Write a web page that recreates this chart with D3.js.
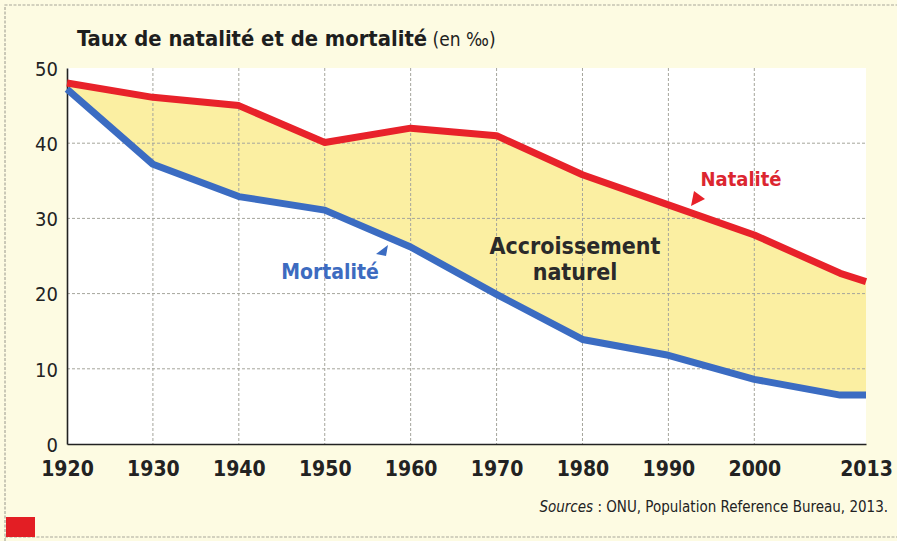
<!DOCTYPE html>
<html>
<head>
<meta charset="utf-8">
<script src="https://cdn.jsdelivr.net/npm/d3@7"></script>
<style>
  html, body { margin: 0; padding: 0; background: #fdfbe2; }
  svg { display: block; }
  text { font-family: "Liberation Sans Narrow", "DejaVu Sans Condensed", "Open Sans", sans-serif; }
</style>
</head>
<body>
<svg id="chart" width="897" height="541"></svg>
<script>
// ---- Data ----
const years     = [1920, 1930, 1940, 1950, 1960, 1970, 1980, 1990, 2000, 2010, 2013];
const natalite  = [48,   46.1, 45,   40.1, 42,   41,   35.8, 31.8, 27.8, 22.7, 21.6];
const mortalite = [47.2, 37.2, 32.9, 31.1, 26.2, 19.9, 13.9, 11.8, 8.6,  6.5,  6.5];
const xTickYears = [1920, 1930, 1940, 1950, 1960, 1970, 1980, 1990, 2000, 2013];
const gridYears  = [1930, 1940, 1950, 1960, 1970, 1980, 1990, 2000];
const yTicks     = [0, 10, 20, 30, 40, 50];
const gridValues = [10, 20, 30, 40];

const svg = d3.select("#chart");
const W = 897, H = 541;

// outer background + dashed frame
svg.append("rect").attr("x", 0).attr("y", 0).attr("width", W).attr("height", H).attr("fill", "#fdfbe2");
svg.append("path")
  .attr("d", `M5,${H} L5,5 L${W},5`)
  .attr("fill", "none").attr("stroke", "#a9a79a").attr("stroke-width", 1.2).attr("stroke-dasharray", "3,1.5");
svg.append("line").attr("x1", 5).attr("x2", W).attr("y1", 537).attr("y2", 537)
  .attr("stroke", "#a9a79a").attr("stroke-width", 1.2).attr("stroke-dasharray", "3,1.5");
svg.append("rect").attr("x", 6).attr("y", 517).attr("width", 29).attr("height", 20).attr("fill", "#e31e24");

const x = d3.scaleLinear().domain([1920, 2013]).range([67, 866]);
const y = d3.scaleLinear().domain([0, 50]).range([444, 68]);

// plot background
svg.append("rect").attr("x", x(1920)).attr("y", y(50)).attr("width", x(2013) - x(1920)).attr("height", y(0) - y(50)).attr("fill", "#ffffff");

const data = years.map((yr, i) => ({ yr, n: natalite[i], m: mortalite[i] }));

// area between lines
svg.append("path").datum(data)
  .attr("d", d3.area().x(d => x(d.yr)).y0(d => y(d.m)).y1(d => y(d.n)))
  .attr("fill", "#fbefa2");

// gridlines
svg.append("g").selectAll("line").data(gridValues).join("line")
  .attr("x1", x(1920)).attr("x2", x(2013)).attr("y1", d => y(d)).attr("y2", d => y(d))
  .attr("stroke", "#a5a59c").attr("stroke-width", 1).attr("stroke-dasharray", "3,2");
svg.append("g").selectAll("line").data(gridYears).join("line")
  .attr("x1", d => x(d)).attr("x2", d => x(d)).attr("y1", y(50)).attr("y2", y(0))
  .attr("stroke", "#a5a59c").attr("stroke-width", 1).attr("stroke-dasharray", "3,2");

// axes
const yAxis = svg.append("g").attr("transform", `translate(${x(1920)},0)`)
  .call(d3.axisLeft(y).tickValues(yTicks).tickSize(0).tickPadding(9));
yAxis.select(".domain").attr("stroke", "#222").attr("stroke-width", 1.6);
yAxis.selectAll("text").attr("font-size", 20).attr("fill", "#222").attr("dy", "0.36em");

const xAxis = svg.append("g").attr("transform", `translate(0,${y(0)})`)
  .call(d3.axisBottom(x).tickValues(xTickYears).tickFormat(d3.format("d")).tickSize(0).tickPadding(17));
xAxis.select(".domain").attr("stroke", "#222").attr("stroke-width", 1.6);
xAxis.selectAll("text").attr("font-size", 21).attr("font-weight", "bold").attr("fill", "#222");

// lines
const line = key => d3.line().x(d => x(d.yr)).y(d => y(d[key]));
svg.append("path").datum(data).attr("d", line("m"))
  .attr("fill", "none").attr("stroke", "#3b6cc2").attr("stroke-width", 7).attr("stroke-linejoin", "round");
svg.append("path").datum(data).attr("d", line("n"))
  .attr("fill", "none").attr("stroke", "#e8222a").attr("stroke-width", 7).attr("stroke-linejoin", "round");

// title
const title = svg.append("text").attr("x", 77).attr("y", 46).attr("fill", "#1e1e1e");
title.append("tspan").attr("font-size", 21.8).attr("font-weight", "bold").text("Taux de natalité et de mortalité");
title.append("tspan").attr("font-size", 19).text(" (en ‰)");

// labels
svg.append("text").attr("x", 741).attr("y", 186).attr("text-anchor", "middle")
  .attr("font-size", 20).attr("font-weight", "bold").attr("fill", "#dc2630").text("Natalité");
svg.append("path").attr("d", "M691,206 L694,191 L705,199 Z").attr("fill", "#e8222a");

svg.append("text").attr("x", 330).attr("y", 279).attr("text-anchor", "middle")
  .attr("font-size", 21).attr("font-weight", "bold").attr("fill", "#3d6bc0").text("Mortalité");
svg.append("path").attr("d", "M388,245 L386,256 L376,254 Z").attr("fill", "#3b6cc2");

const acc = svg.append("text").attr("text-anchor", "middle").attr("font-size", 23).attr("font-weight", "bold").attr("fill", "#2a2a2a");
acc.append("tspan").attr("x", 575).attr("y", 254).text("Accroissement");
acc.append("tspan").attr("x", 575).attr("y", 280).text("naturel");

// sources
const src = svg.append("text").attr("x", 888).attr("y", 512).attr("text-anchor", "end").attr("font-size", 15).attr("fill", "#222");
src.append("tspan").attr("font-style", "italic").text("Sources");
src.append("tspan").text(" : ONU, Population Reference Bureau, 2013.");
</script>
</body>
</html>
